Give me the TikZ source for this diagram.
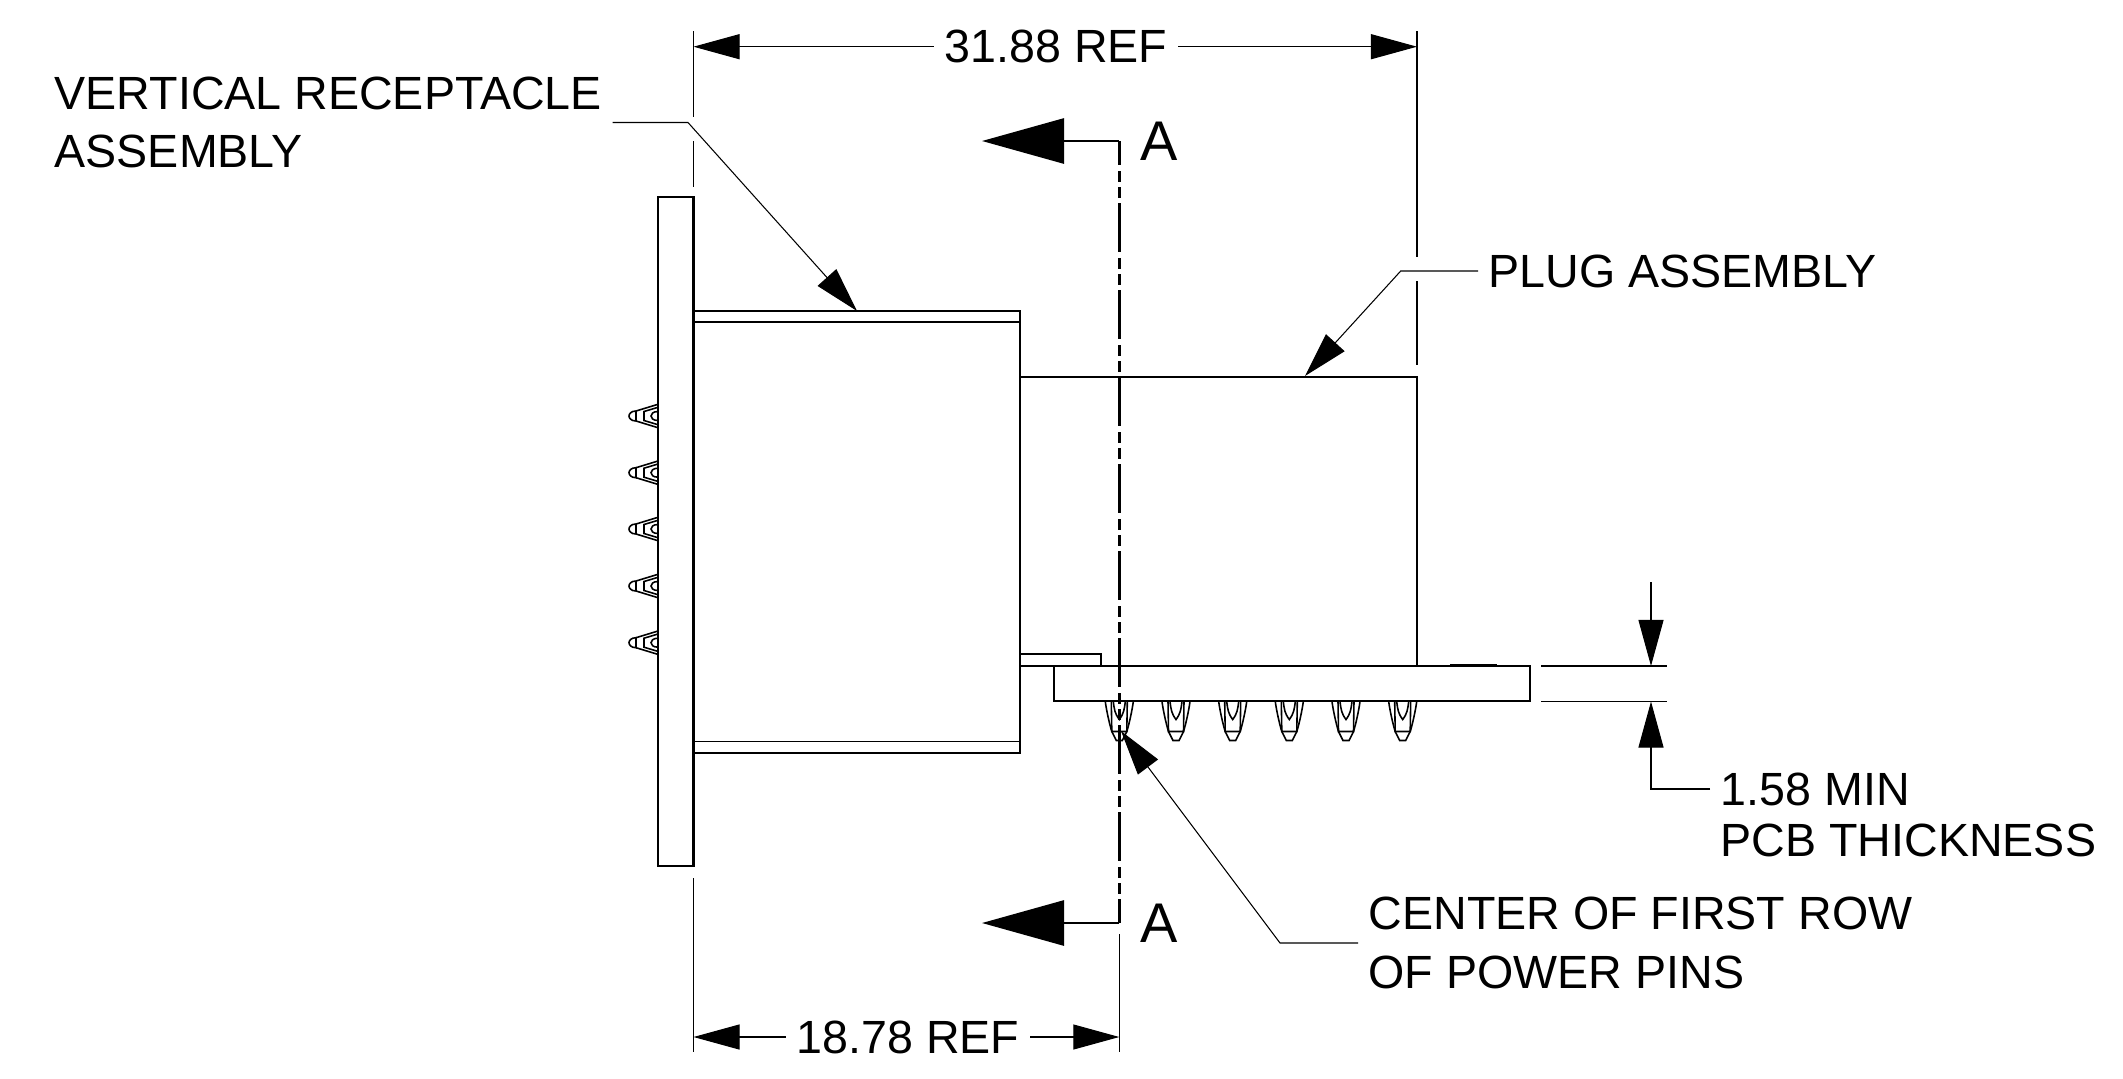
\documentclass[tikz,border=0pt]{standalone}
\usepackage{fontspec}
\setmainfont{Liberation Sans}
\usetikzlibrary{arrows.meta}
\tikzset{%
  body/.style={line width=0.68pt},
  thinline/.style={line width=0.3pt},
  pinline/.style={line width=0.45pt},
  cutline/.style={line width=0.8pt,dash pattern=on 0.49cm off 0.06cm on 0.11cm off 0.05cm on 0.11cm off 0.05cm,dash phase=0.25cm},
  dimtip/.style={-{Triangle[length=0.46cm,width=0.25cm]}},
  leadtip/.style={-{Triangle[length=0.45cm,width=0.25cm]}},
  sectip/.style={-{Triangle[length=0.82cm,width=0.45cm]}},
  labeltext/.style={font=\fontsize{13.25}{16.7}\selectfont,inner xsep=0.1cm,inner ysep=0pt,align=left},
  sectext/.style={font=\fontsize{15.9}{18}\selectfont,inner sep=0pt}
}
% pin seen from the side, on the flange
\NewDocumentCommand\pinS{}{%
  \draw[pinline] (0,11.7) -- (22,5) (0,8.7) -- (14,4.5) -- (14,-4.5) -- (0,-8.7) (0,-11.7) -- (22,-5);
  \draw[pinline] (22,5) .. controls (27,5) and (29,2) .. (29,0) .. controls (29,-2) and (27,-5) .. (22,-5) -- cycle;
  \draw[pinline] (0,4.5) .. controls (5,4.5) and (7,2) .. (7,0) .. controls (7,-2) and (5,-4.5) .. (0,-4.5);
}
% pin seen from the front, under the board
\NewDocumentCommand\pinB{}{%
  \draw[pinline] (0,14) .. controls (8,13) and (22,10) .. (30,7.5) -- (39,3) -- (39,-3) -- (30,-7.5) .. controls (22,-10) and (8,-13) .. (0,-14);
  \draw[pinline] (0,8) -- (30,7.5) -- (30,-7.5) -- (0,-8);
  \draw[pinline] (0,6) .. controls (8,5) and (12,4.5) .. (18,0) .. controls (12,-4.5) and (8,-5) .. (0,-6);
}

\begin{document}
\begin{tikzpicture}[x=0.01cm,y=-0.01cm]
  \useasboundingbox (0,0) rectangle (2123,1078);
  %%% Flange and receptacle
  \draw[body] (658,197) rectangle (693.5,866);
  \draw[body] (693.5,311) -- (1020,311) -- (1020,753) -- (693.5,753);
  \draw[thinline] (693.5,322) -- (1020,322);
  \draw[thinline] (693.5,741.5) -- (1020,741.5);
  \draw[line width=0.5pt] (692.5,330) -- (692.5,377);
  %%% Plug and board
  \draw[body] (1020,376.7) -- (1417,376.7) -- (1417,666);
  \draw[body] (1020,654) rectangle (1101,666);
  \draw[body] (1020,666) -- (1054,666);
  \draw[body] (1054,666) rectangle (1530,701);
  \draw[thinline] (1450,664.5) -- (1497,664.5);
  %%% Pins
  \begin{scope}[shift={(658,416)},rotate=180]\pinS\end{scope}
  \begin{scope}[shift={(658,472.7)},rotate=180]\pinS\end{scope}
  \begin{scope}[shift={(658,529)},rotate=180]\pinS\end{scope}
  \begin{scope}[shift={(658,586)},rotate=180]\pinS\end{scope}
  \begin{scope}[shift={(658,642.7)},rotate=180]\pinS\end{scope}
  %
  \begin{scope}[shift={(1119.3,701.5)},rotate=-90]\pinB\end{scope}
  \begin{scope}[shift={(1176,701.5)},rotate=-90]\pinB\end{scope}
  \begin{scope}[shift={(1232.7,701.5)},rotate=-90]\pinB\end{scope}
  \begin{scope}[shift={(1289.3,701.5)},rotate=-90]\pinB\end{scope}
  \begin{scope}[shift={(1346,701.5)},rotate=-90]\pinB\end{scope}
  \begin{scope}[shift={(1402.7,701.5)},rotate=-90]\pinB\end{scope}
  %%% Section line
  \coordinate (s0) at (1119.3,141);
  \coordinate (s1) at (1119.3,923);
  \coordinate (s2) at (982,141);
  \coordinate (s3) at (982,923);
  \draw[cutline] (s0) -- (s1);
  \draw[body,line width=0.8pt,sectip] (s0) -- (s2);
  \draw[body,line width=0.8pt,sectip] (s1) -- (s3);
  \node[sectext] (secatop) at (1159,141) {A};
  \node[sectext] (secabot) at (1159,923) {A};
  %%% Extension lines
  \coordinate (e0) at (693.5,31);
  \coordinate (e1) at (693.5,117);
  \coordinate (e2) at (693.5,141);
  \coordinate (e3) at (693.5,187);
  \coordinate (e4) at (693.5,878);
  \coordinate (e5) at (693.5,1052);
  \coordinate (e6) at (1417,31);
  \coordinate (e7) at (1417,257);
  \coordinate (e8) at (1417,281);
  \coordinate (e9) at (1417,365);
  \coordinate (e10) at (1119.3,934);
  \coordinate (e11) at (1119.3,1052);
  \coordinate (e12) at (1541,666);
  \coordinate (e13) at (1667,666);
  \coordinate (e14) at (1541,701.5);
  \coordinate (e15) at (1667,701.5);
  \draw[thinline] (e0) -- (e1);
  \draw[thinline] (e2) -- (e3);
  \draw[thinline] (e4) -- (e5);
  \draw[thinline] (e6) -- (e7);
  \draw[thinline] (e8) -- (e9);
  \draw[thinline] (e10) -- (e11);
  \draw[thinline] (e12) -- (e13);
  \draw[thinline] (e14) -- (e15);
  %%% Dimensions
  \node[labeltext] (dimtotal) at (1056,46.7) {31.88 REF};
  \coordinate (d0) at (693.5,46.7);
  \coordinate (d1) at (1417,46.7);
  \draw[thinline,dimtip] (dimtotal.west) -- (d0);
  \draw[thinline,dimtip] (dimtotal.east) -- (d1);
  %
  \node[labeltext] (dimcenter) at (908,1037) {18.78 REF};
  \coordinate (d2) at (693.5,1037);
  \coordinate (d3) at (1119.3,1037);
  \draw[thinline,dimtip] (dimcenter.west) -- (d2);
  \draw[thinline,dimtip] (dimcenter.east) -- (d3);
  %
  \node[labeltext,anchor=west] (dimthick) at (1710,789) {1.58 MIN};
  \node[labeltext,anchor=west] (dimpcb) at (1710,840) {PCB THICKNESS};
  \coordinate (t0) at (1651,582);
  \coordinate (t1) at (1651,666);
  \coordinate (t2) at (1651,789);
  \coordinate (t3) at (1651,701.5);
  \draw[thinline,dimtip] (t0) -- (t1);
  \draw[thinline,dimtip] (dimthick.west) -- (t2) -- (t3);
  %%% Leaders
  \node[labeltext,anchor=west] (vertlabel) at (44,122.5) {VERTICAL RECEPTACLE\\ASSEMBLY};
  \coordinate (l0) at (688,122.5);
  \coordinate (l1) at (857,311);
  \draw[thinline,leadtip] (vertlabel.east) -- (l0) -- (l1);
  %
  \node[labeltext,anchor=west] (pluglabel) at (1478,271) {PLUG ASSEMBLY};
  \coordinate (l2) at (1400.7,271);
  \coordinate (l3) at (1305,376);
  \draw[thinline,leadtip] (pluglabel.west) -- (l2) -- (l3);
  %
  \node[labeltext,anchor=west] (rowlabel) at (1358,943) {CENTER OF FIRST ROW\\OF POWER PINS};
  \coordinate (l4) at (1280,943);
  \coordinate (l5) at (1121,731);
  \draw[thinline,leadtip] (rowlabel.west) -- (l4) -- (l5);
  %%
\end{tikzpicture}
\end{document}
